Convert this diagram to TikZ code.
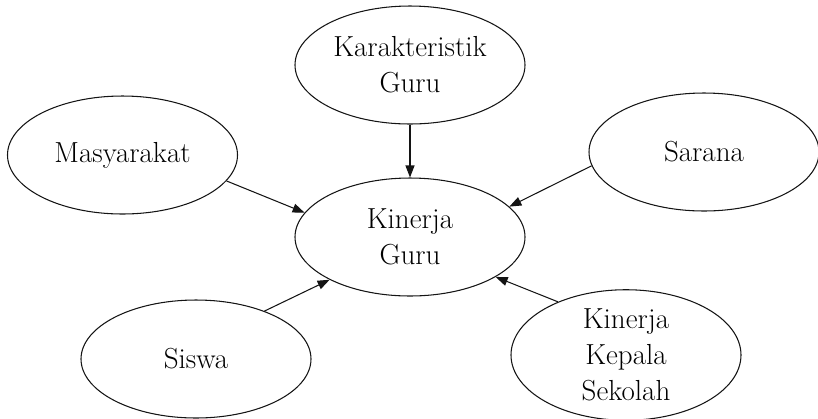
\documentclass[tikz,border=0pt]{standalone}
\usepackage{xcolor}
\usepackage{tikz}
\usetikzlibrary{shapes.geometric, arrows.meta, positioning}
\definecolor{mydark}{RGB}{20,20,20}
\tikzset{
  factor/.style={ellipse, draw=mydark, fill=white,
    minimum width=4.6cm, minimum height=2.36cm, inner sep=0pt,
    align=center, font=\fontsize{16.5}{20.5}\selectfont, line width=0.6pt},
  arrow/.style={-{Triangle[length=2.4mm, width=1.8mm]}, line width=0.6pt, color=mydark}
}
\begin{document}
\begin{tikzpicture}
  \useasboundingbox (0,0) rectangle (16.36,-8.36);
  % Central node
  \node[factor] (kinerja) at (8.20,-4.74) {Kinerja\\Guru};
  % Influencing factors
  \node[factor] (karakter) at (8.20,-1.30) {Karakteristik\\Guru};
  \node[factor] (masyarakat) at (2.45,-3.10) {Masyarakat};
  \node[factor] (sarana) at (14.08,-3.04) {Sarana};
  \node[factor] (siswa) at (3.92,-7.18) {Siswa};
  \node[factor] (kepsek) at (12.52,-7.10) {Kinerja\\Kepala\\Sekolah};

  % Arrows into Kinerja Guru
  \draw[arrow] (karakter.south) -- (kinerja.north);
  \draw[arrow] (masyarakat.-14) -- (kinerja.167);
  \draw[arrow] (sarana.-173) -- (kinerja.17);
  \draw[arrow] (siswa.35) -- (kinerja.208);
  \draw[arrow] (kepsek.142) -- (kinerja.-25);
\end{tikzpicture}
\end{document}
